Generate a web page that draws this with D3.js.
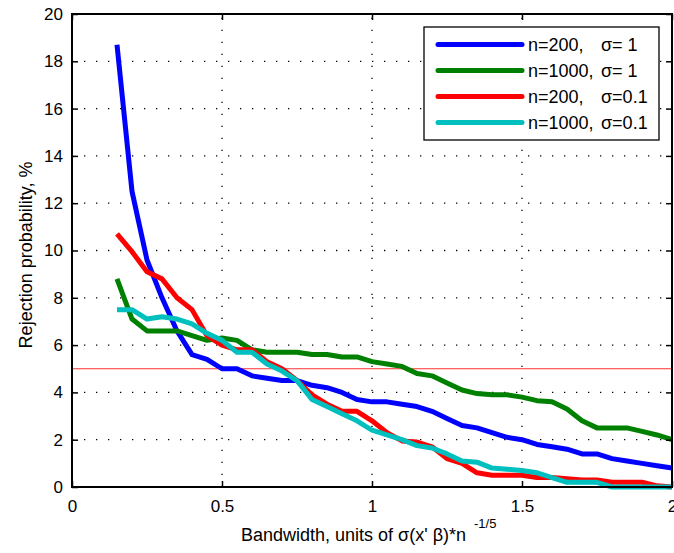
<!DOCTYPE html>
<html>
<head>
<meta charset="utf-8">
<script src="https://cdn.jsdelivr.net/npm/d3@7"></script>
<style>
  body { margin: 0; background: #fff; }
  text { font-family: "Liberation Sans", Arial, sans-serif; }
</style>
</head>
<body>
<div id="chart"></div>
<script>
// bandwidth grid, 0.15 .. 2.0 step 0.05
const bandwidth = [0.15, 0.2, 0.25, 0.3, 0.35, 0.4, 0.45, 0.5, 0.55, 0.6, 0.65, 0.7, 0.75, 0.8, 0.85, 0.9, 0.95, 1.0,
    1.05, 1.1, 1.15, 1.2, 1.25, 1.3, 1.35, 1.4, 1.45, 1.5, 1.55, 1.6, 1.65, 1.7, 1.75, 1.8, 1.85, 1.9, 1.95, 2.0];

const n200s1 = [18.7, 12.5, 9.6, 8.0, 6.6, 5.6, 5.4, 5.0, 5.0, 4.7, 4.6, 4.5, 4.5, 4.3, 4.2, 4.0, 3.7, 3.6,
    3.6, 3.5, 3.4, 3.2, 2.9, 2.6, 2.5, 2.3, 2.1, 2.0, 1.8, 1.7, 1.6, 1.4, 1.4, 1.2, 1.1, 1.0, 0.9, 0.8];
const n1000s1 = [8.8, 7.1, 6.6, 6.6, 6.6, 6.4, 6.2, 6.3, 6.2, 5.8, 5.7, 5.7, 5.7, 5.6, 5.6, 5.5, 5.5, 5.3,
    5.2, 5.1, 4.8, 4.7, 4.4, 4.1, 3.95, 3.9, 3.9, 3.8, 3.65, 3.6, 3.3, 2.8, 2.5, 2.5, 2.5, 2.35, 2.2, 2.0];
const n200s01 = [10.7, 9.95, 9.1, 8.8, 8.0, 7.5, 6.4, 6.0, 5.8, 5.8, 5.3, 5.0, 4.5, 3.9, 3.5, 3.2, 3.2, 2.8,
    2.3, 1.95, 1.9, 1.7, 1.2, 1.0, 0.6, 0.5, 0.5, 0.5, 0.4, 0.4, 0.35, 0.3, 0.3, 0.2, 0.2, 0.2, 0.05, 0];
const n1000s01 = [7.5, 7.5, 7.1, 7.2, 7.1, 6.9, 6.5, 6.2, 5.7, 5.7, 5.2, 4.9, 4.5, 3.7, 3.4, 3.1, 2.8, 2.4,
    2.2, 2.0, 1.75, 1.65, 1.4, 1.1, 1.05, 0.8, 0.75, 0.7, 0.6, 0.4, 0.2, 0.2, 0.2, 0, 0, 0, 0, 0];

const seriesNames = ["n=200,", "n=1000,", "n=200,", "n=1000,"];
const sigmaNames = ["\u03c3= 1", "\u03c3= 1", "\u03c3=0.1", "\u03c3=0.1"];
const seriesColors = ["#0000ff", "#008000", "#ff0000", "#00bfbf"];
const seriesValues = [n200s1, n1000s1, n200s01, n1000s01];

const xTicks = [0, 0.5, 1, 1.5, 2];
const yTicks = [0, 2, 4, 6, 8, 10, 12, 14, 16, 18, 20];
const nominalLevel = 5;

const width = 674, height = 553;
const margin = {top: 14, right: 2, bottom: 66, left: 72};

const svg = d3.create("svg")
    .attr("width", width)
    .attr("height", height);

const x = d3.scaleLinear().domain([0, 2]).range([margin.left, width - margin.right]);
const y = d3.scaleLinear().domain([0, 20]).range([height - margin.bottom, margin.top]);

// Grid
const grid = svg.append("g")
    .attr("stroke", "#000")
    .attr("stroke-width", 1.3)
    .attr("stroke-dasharray", "1.3,10.7");
grid.selectAll(".gx")
    .data(xTicks.slice(1, -1))
    .enter().append("line")
    .attr("x1", d => x(d)).attr("x2", d => x(d))
    .attr("y1", y(0)).attr("y2", y(20));
grid.selectAll(".gy")
    .data(yTicks.slice(1, -1))
    .enter().append("line")
    .attr("y1", d => y(d)).attr("y2", d => y(d))
    .attr("x1", x(0)).attr("x2", x(2));

// Reference line at 5%
svg.append("line")
    .attr("x1", x(0)).attr("x2", x(2))
    .attr("y1", y(nominalLevel)).attr("y2", y(nominalLevel))
    .attr("stroke", "#ff3030")
    .attr("stroke-width", 1);

// Curves
const line = d3.line()
    .x((d, i) => x(bandwidth[i]))
    .y(d => y(d));

svg.append("g")
    .selectAll("path")
    .data(seriesValues)
    .enter().append("path")
    .attr("d", d => line(d))
    .attr("fill", "none")
    .attr("stroke", (d, i) => seriesColors[i])
    .attr("stroke-width", 5)
    .attr("stroke-linejoin", "round");

// Axes (ticks inside, all four sides)
const tickLen = 6;
svg.append("g")
    .attr("transform", `translate(0,${y(0)})`)
    .call(d3.axisBottom(x).tickValues(xTicks).tickSize(-tickLen).tickPadding(13).tickFormat(d3.format("")))
    .call(g => g.select(".domain").remove());
svg.append("g")
    .attr("transform", `translate(0,${y(20)})`)
    .call(d3.axisTop(x).tickValues(xTicks).tickSize(-tickLen).tickFormat(""))
    .call(g => g.select(".domain").remove());
svg.append("g")
    .attr("transform", `translate(${x(0)},0)`)
    .call(d3.axisLeft(y).tickValues(yTicks).tickSize(-tickLen).tickPadding(9))
    .call(g => g.select(".domain").remove());
svg.append("g")
    .attr("transform", `translate(${x(2)},0)`)
    .call(d3.axisRight(y).tickValues(yTicks).tickSize(-tickLen).tickFormat(""))
    .call(g => g.select(".domain").remove());

svg.selectAll(".tick line").attr("stroke", "#000").attr("stroke-width", 1.5);
svg.selectAll(".tick text")
    .attr("fill", "#000")
    .style("font-size", "17px");

// Frame
svg.append("rect")
    .attr("x", x(0)).attr("y", y(20))
    .attr("width", x(2) - x(0)).attr("height", y(0) - y(20))
    .attr("fill", "none")
    .attr("stroke", "#000")
    .attr("stroke-width", 2);

// Axis labels
const xLabel = svg.append("text")
    .attr("x", 241)
    .attr("y", 541)
    .style("font-size", "18px");
xLabel.append("tspan").text("Bandwidth, units of \u03c3(x' \u03b2)*n ");
xLabel.append("tspan").attr("dx", 3).attr("dy", -13).style("font-size", "13px").text("-1/5");

svg.append("text")
    .attr("transform", `translate(32,255) rotate(-90)`)
    .attr("text-anchor", "middle")
    .style("font-size", "18px")
    .text("Rejection probability, %");

// Legend
const legend = svg.append("g");
legend.append("rect")
    .attr("x", 424).attr("y", 27)
    .attr("width", 235).attr("height", 113)
    .attr("fill", "#fff")
    .attr("stroke", "#000")
    .attr("stroke-width", 1.3);

const rows = legend.selectAll(".row")
    .data(seriesColors)
    .enter().append("g")
    .attr("transform", (d, i) => `translate(0,${44.5 + i * 26})`);
rows.append("line")
    .attr("x1", 438).attr("x2", 522)
    .attr("stroke", d => d)
    .attr("stroke-width", 5)
    .attr("stroke-linecap", "round");
rows.append("text")
    .attr("x", 528).attr("y", 6.5)
    .style("font-size", "18px")
    .text((d, i) => seriesNames[i]);
rows.append("text")
    .attr("x", 601).attr("y", 6.5)
    .style("font-size", "18px")
    .text((d, i) => sigmaNames[i]);

document.getElementById("chart").appendChild(svg.node());
</script>
</body>
</html>
